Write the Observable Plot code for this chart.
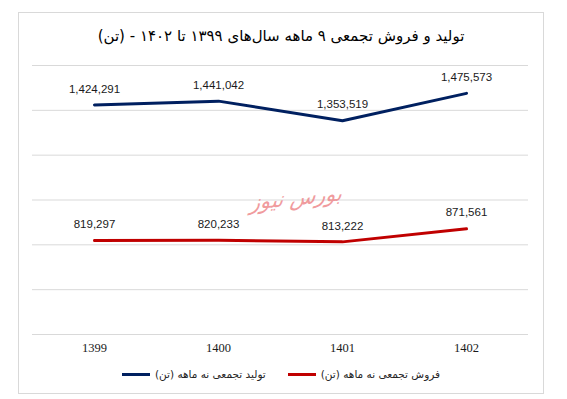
<!DOCTYPE html>
<html>
<head>
<meta charset="utf-8">
<script src="https://cdn.jsdelivr.net/npm/d3@7"></script>
<script src="https://cdn.jsdelivr.net/npm/@observablehq/plot@0.6"></script>
<style>
  body { margin: 0; background: #fff; }
  #wrap { position: relative; width: 567px; height: 399px; overflow: hidden; background: #fff; }
  #frame { position: absolute; left: 18px; top: 12px; width: 524px; height: 380px; border: 1px solid #d9d9d9; }
  #title { position: absolute; left: 18px; width: 526px; top: 27px; text-align: center; font-family: "DejaVu Sans", sans-serif; font-size: 15px; color: #000; direction: rtl; }
  #chart { position: absolute; left: 0; top: 0; }
  #legend { position: absolute; left: 18px; width: 526px; top: 368px; display: flex; justify-content: center; align-items: center; font-family: "DejaVu Sans", sans-serif; font-size: 10.5px; color: #262626; direction: ltr; }
  .item { display: flex; align-items: center; margin: 0 11px; }
  .sw { width: 28px; height: 3px; margin-right: 5px; }
  #mark { position: absolute; left: 250px; top: 186px; font-family: "DejaVu Sans", sans-serif; font-size: 21px; font-style: italic; color: #ee8a8d; opacity: 0.85; transform: rotate(-6deg) skewX(-10deg); direction: rtl; }
</style>
</head>
<body>
<div id="wrap">
  <div id="frame"></div>
  <div id="chart"></div>
  <div id="title"></div>
  <div id="mark"></div>
  <div id="legend"></div>
</div>
<script>
const titleText = "تولید و فروش تجمعی ۹ ماهه سال‌های ۱۳۹۹ تا ۱۴۰۲ - (تن)";
const years = ["1399", "1400", "1401", "1402"];
const production = [1424291, 1441042, 1353519, 1475573];
const sales = [819297, 820233, 813222, 871561];
const seriesNames = ["تولید تجمعی نه ماهه (تن)", "فروش تجمعی نه ماهه (تن)"];
const seriesColors = ["#002060", "#C00000"];
const yTicks = [400000, 600000, 800000, 1000000, 1200000, 1400000, 1600000];
const watermark = "بورس نیوز";

const data = [];
years.forEach((yr, i) => {
  data.push({year: yr, value: production[i], series: seriesNames[0]});
  data.push({year: yr, value: sales[i], series: seriesNames[1]});
});

const fmt = d3.format(",");

const chart = Plot.plot({
  width: 567,
  height: 399,
  marginLeft: 32,
  marginRight: 39,
  marginTop: 65,
  marginBottom: 65,
  style: {background: "transparent", overflow: "visible"},
  x: {type: "point", domain: years, padding: 0.5, label: null},
  y: {domain: [400000, 1600000], label: null, axis: null},
  color: {domain: seriesNames, range: seriesColors},
  marks: [
    Plot.gridY(yTicks, {stroke: "#d9d9d9", strokeOpacity: 1, strokeWidth: 1}),
    Plot.axisX({tickSize: 0, tickPadding: 9, fontSize: 12.5, fontFamily: "Liberation Serif", fill: "#1a1a1a", label: null}),
    Plot.line(data, {x: "year", y: "value", z: "series", stroke: "series", strokeWidth: 3, strokeLinecap: "round"}),
    Plot.text(data, {x: "year", y: "value", text: d => fmt(d.value), dy: -16, fontSize: 11.5, fontFamily: "Liberation Sans", fill: "#1a1a1a"})
  ]
});
document.getElementById("chart").appendChild(chart);
document.getElementById("title").textContent = titleText;
document.getElementById("mark").textContent = watermark;

const legend = document.getElementById("legend");
seriesNames.forEach((name, i) => {
  const item = document.createElement("div");
  item.className = "item";
  const sw = document.createElement("div");
  sw.className = "sw";
  sw.style.background = seriesColors[i];
  const tx = document.createElement("span");
  tx.dir = "rtl";
  tx.textContent = name;
  item.appendChild(sw);
  item.appendChild(tx);
  legend.appendChild(item);
});
</script>
</body>
</html>
